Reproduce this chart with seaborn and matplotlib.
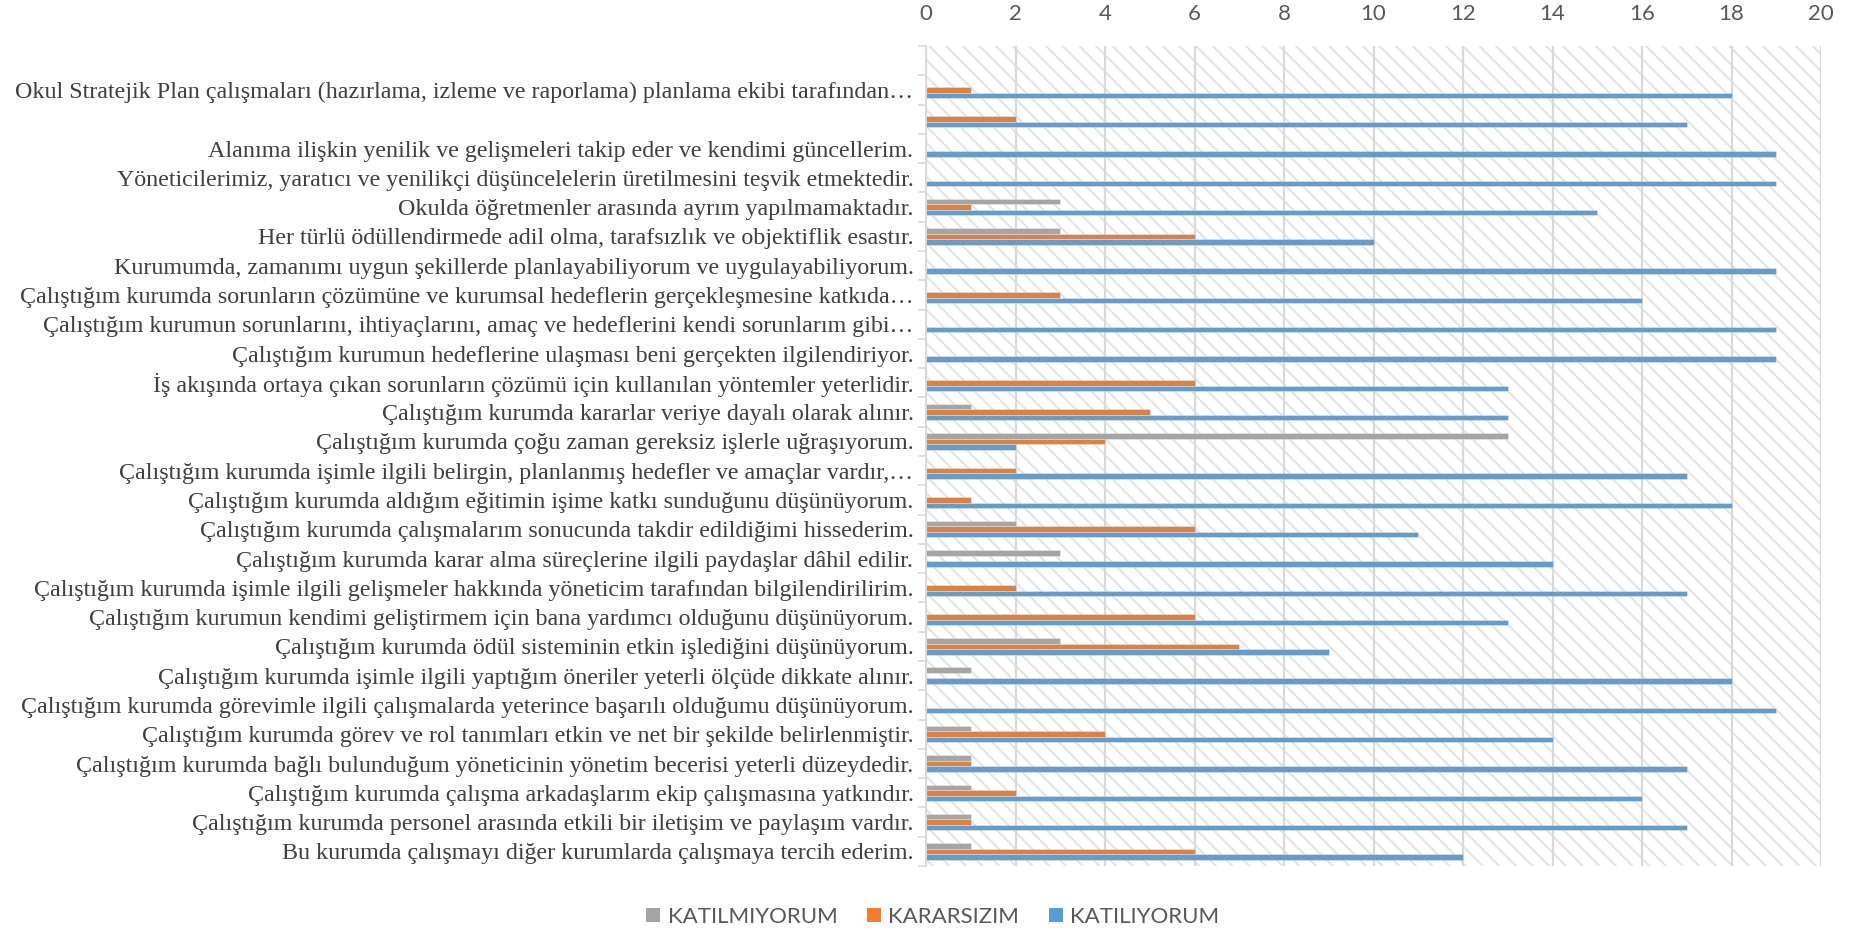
import matplotlib
matplotlib.use("Agg")
import matplotlib.pyplot as plt
import numpy as np
import pandas as pd
import seaborn as sns
from matplotlib.patches import Rectangle

categories = [
    " ",
    "Okul Stratejik Plan çalışmaları (hazırlama, izleme ve raporlama) planlama ekibi tarafından…",
    "  ",
    "Alanıma ilişkin yenilik ve gelişmeleri takip eder ve kendimi güncellerim.",
    "Yöneticilerimiz, yaratıcı ve yenilikçi düşüncelelerin üretilmesini teşvik etmektedir.",
    "Okulda öğretmenler arasında ayrım yapılmamaktadır.",
    "Her türlü ödüllendirmede adil olma, tarafsızlık ve objektiflik esastır.",
    "Kurumumda, zamanımı uygun şekillerde planlayabiliyorum ve uygulayabiliyorum.",
    "Çalıştığım kurumda sorunların çözümüne ve kurumsal hedeflerin gerçekleşmesine katkıda…",
    "Çalıştığım kurumun sorunlarını, ihtiyaçlarını, amaç ve hedeflerini kendi sorunlarım gibi…",
    "Çalıştığım kurumun hedeflerine ulaşması beni gerçekten ilgilendiriyor.",
    "İş akışında ortaya çıkan sorunların çözümü için kullanılan yöntemler yeterlidir.",
    "Çalıştığım kurumda kararlar veriye dayalı olarak alınır.",
    "Çalıştığım kurumda çoğu zaman gereksiz işlerle uğraşıyorum.",
    "Çalıştığım kurumda işimle ilgili belirgin, planlanmış hedefler ve amaçlar vardır,…",
    "Çalıştığım kurumda aldığım eğitimin işime katkı sunduğunu düşünüyorum.",
    "Çalıştığım kurumda çalışmalarım sonucunda takdir edildiğimi hissederim.",
    "Çalıştığım kurumda karar alma süreçlerine ilgili paydaşlar dâhil edilir.",
    "Çalıştığım kurumda işimle ilgili gelişmeler hakkında yöneticim tarafından bilgilendirilirim.",
    "Çalıştığım kurumun kendimi geliştirmem için bana yardımcı olduğunu düşünüyorum.",
    "Çalıştığım kurumda ödül sisteminin etkin işlediğini düşünüyorum.",
    "Çalıştığım kurumda işimle ilgili yaptığım öneriler yeterli ölçüde dikkate alınır.",
    "Çalıştığım kurumda görevimle ilgili çalışmalarda yeterince başarılı olduğumu düşünüyorum.",
    "Çalıştığım kurumda görev ve rol tanımları etkin ve net bir şekilde belirlenmiştir.",
    "Çalıştığım kurumda bağlı bulunduğum yöneticinin yönetim becerisi yeterli düzeydedir.",
    "Çalıştığım kurumda çalışma arkadaşlarım ekip çalışmasına yatkındır.",
    "Çalıştığım kurumda personel arasında etkili bir iletişim ve paylaşım vardır.",
    "Bu kurumda çalışmayı diğer kurumlarda çalışmaya tercih ederim.",
]

katilmiyorum = [0, 0, 0, 0, 0, 3, 3, 0, 0, 0, 0, 0, 1, 13, 0, 0, 2, 3, 0, 0, 3, 1, 0, 1, 1, 1, 1, 1]
kararsizim = [0, 1, 2, 0, 0, 1, 6, 0, 3, 0, 0, 6, 5, 4, 2, 1, 6, 0, 2, 6, 7, 0, 0, 4, 1, 2, 1, 6]
katiliyorum = [0, 18, 17, 19, 19, 15, 10, 19, 16, 19, 19, 13, 13, 2, 17, 18, 11, 14, 17, 13, 9, 18, 19, 14, 17, 16, 17, 12]

series_names = ["KATILMIYORUM", "KARARSIZIM", "KATILIYORUM"]
series_colors = ["#A5A5A5", "#ED7D31", "#5B9BD5"]
x_ticks = list(range(0, 21, 2))

df = pd.concat([
    pd.DataFrame({"category": categories, "value": vals, "series": name})
    for name, vals in zip(series_names, [katilmiyorum, kararsizim, katiliyorum])
], ignore_index=True)

sns.set_theme(style="white")
plt.rcParams['font.family'] = ['Lato', 'DejaVu Sans']
plt.rcParams['hatch.linewidth'] = 1.4
plt.rcParams['hatch.color'] = '#e2e2e2'

W, H = 1854, 930
fig = plt.figure(figsize=(W / 100, H / 100), dpi=100)
left, right, top, bottom = 926, 1821, 46, 866
ax = fig.add_axes([left / W, 1 - bottom / H, (right - left) / W, (bottom - top) / H])

bg = Rectangle((0, 0), 1, 1, transform=ax.transAxes, facecolor="white",
               edgecolor="#e2e2e2", linewidth=0, hatch="\\\\", zorder=0)
ax.add_patch(bg)

sns.barplot(data=df, y="category", x="value", hue="series", order=categories,
            hue_order=series_names, palette=series_colors, orient="h",
            width=0.56, ax=ax, legend=False, errorbar=None,
            edgecolor=(1, 1, 1, 0.45), linewidth=0.5, zorder=2)

ax.set_xlim(0, 20)
ax.set_ylim(len(categories) - 0.5, -0.5)
ax.set_xticks(x_ticks)
ax.xaxis.tick_top()
ax.tick_params(axis="x", length=0, pad=16, labelsize=16, labelcolor="#595959")
ax.grid(False)
for xv in x_ticks:
    ax.axvline(xv, color="#d9d9d9", linewidth=1.6, zorder=1)

ax.set_yticks(range(len(categories)))
ax.set_yticklabels(categories, fontfamily=["Liberation Serif", "DejaVu Serif"],
                   fontsize=17.3, color="#404040")
ax.tick_params(axis="y", which="major", length=0, pad=9)
ax.set_yticks(np.arange(-0.5, len(categories), 1.0), minor=True)
ax.tick_params(axis="y", which="minor", length=6, width=1.2, color="#d9d9d9", left=True)
ax.set_xlabel("")
ax.set_ylabel("")
for s in ["top", "right", "bottom"]:
    ax.spines[s].set_visible(False)
ax.spines["left"].set_color("#d9d9d9")
ax.spines["left"].set_linewidth(1.4)

handles = [Rectangle((0, 0), 1, 1, facecolor=c, edgecolor="none") for c in series_colors]
fig.legend(handles, series_names, loc="center", bbox_to_anchor=(933 / W, 1 - 917 / H),
           ncol=3, frameon=False, fontsize=16, labelcolor="#595959",
           handlelength=0.6, handleheight=0.6, handletextpad=0.35, columnspacing=1.35)

fig.savefig("out.png", dpi=100)
